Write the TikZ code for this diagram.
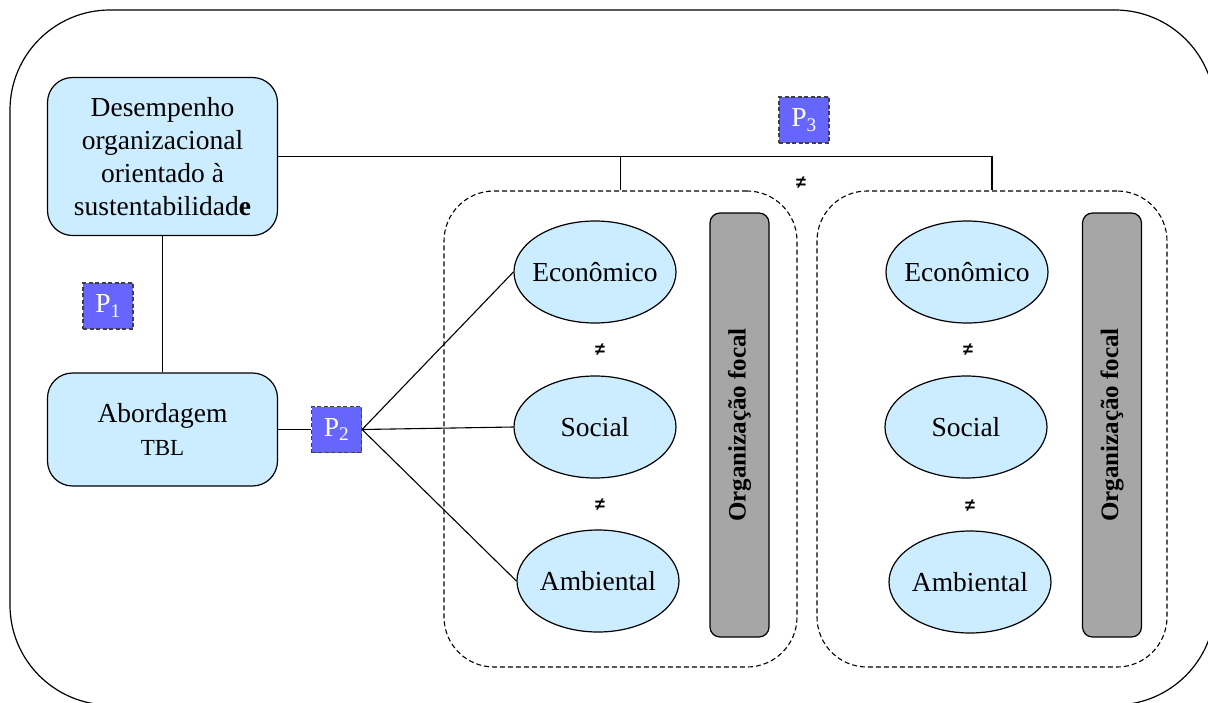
\documentclass[tikz,border=0pt]{standalone}
\usepackage{fontspec}
\setmainfont{Liberation Serif}
\newfontfamily\symfont{Liberation Sans}
\usetikzlibrary{shapes.geometric}
\definecolor{boxblue}{HTML}{CCECFF}
\definecolor{pblue}{HTML}{6666FF}
\definecolor{bargray}{HTML}{A6A6A6}
\begin{document}
\begin{tikzpicture}[x=1pt,y=-1pt,
  txt/.style={font=\fontsize{27.5}{33}\selectfont},
  mainbox/.style={draw, fill=boxblue, rounded corners=25pt, line width=1.2pt, align=center, txt, inner sep=0pt},
  pbox/.style={draw=black!75, dash pattern=on 4pt off 2.5pt, line width=1.2pt, fill=pblue, text=white, minimum width=50pt, minimum height=46pt, inner sep=0pt, txt},
  dim/.style={draw, ellipse, fill=boxblue, line width=1.2pt, minimum width=162pt, minimum height=102pt, inner xsep=-6pt, inner ysep=0pt, txt},
  bar/.style={draw, fill=bargray, rounded corners=10pt, line width=1.2pt, rotate=90, minimum width=424pt, minimum height=59pt, inner sep=0pt, font=\fontsize{25}{28}\selectfont\bfseries},
  grp/.style={draw, dash pattern=on 5pt off 3pt, line width=1.1pt, rounded corners=50pt, inner sep=0pt},
  neq/.style={font=\symfont\bfseries\fontsize{18}{18}\selectfont, inner sep=0pt},
  conn/.style={line width=1.1pt}
]
\clip (0,0) rectangle (1208,702);
% outer frame
\draw[line width=1.2pt, rounded corners=100pt] (10,10) rectangle (1215,705);

% main boxes
\node[mainbox, minimum width=230pt, minimum height=158pt] (d) at (162.5,156.5)
  {Desempenho\\organizacional\\orientado à\\sustentabilidad\textbf{e}};
\node[mainbox, minimum width=230pt, minimum height=113pt] (a) at (162.5,429.5)
  {Abordagem\\{\fontsize{23}{28}\selectfont TBL}};

% groups
\node[grp, minimum width=353pt, minimum height=476pt] (g1) at (620.5,429) {};
\node[grp, minimum width=350pt, minimum height=476pt] (g2) at (992,429) {};

% P boxes
\node[pbox] (p1) at (108,306) {P\textsubscript{1}};
\node[pbox] (p2) at (336.5,429.5) {P\textsubscript{2}};
\node[pbox] (p3) at (804,120) {P\textsubscript{3}};

% ellipses left
\node[dim] (e1) at (595,272) {Econômico};
\node[dim] (s1) at (595,427) {Social};
\node[dim] (m1) at (598,581) {Ambiental};
% ellipses right
\node[dim] (e2) at (967,272) {Econômico};
\node[dim] (s2) at (966,427) {Social};
\node[dim] (m2) at (970,582) {Ambiental};

% bars
\node[bar] (b1) at (739.5,425) {Organização focal};
\node[bar] (b2) at (1112,425) {Organização focal};

% not-equal signs
\node[neq] (n0) at (801,183) {≠};
\node[neq] (n1) at (600,350) {≠};
\node[neq] (n2) at (600,505) {≠};
\node[neq] (n3) at (968,350) {≠};
\node[neq] (n4) at (970,506) {≠};

% connectors
\draw[conn] (d.south) -- (a.north);
\draw[conn] (a.east) -- (p2.west);
\draw[conn] (p2.east) -- (e1.west);
\draw[conn] (p2.east) -- (s1.west);
\draw[conn] (p2.east) -- (m1.west);
\draw[conn] (d.east) -| (g1.north);
\draw[conn] (g1.north |- d.east) -| (g2.north);
\end{tikzpicture}
\end{document}
